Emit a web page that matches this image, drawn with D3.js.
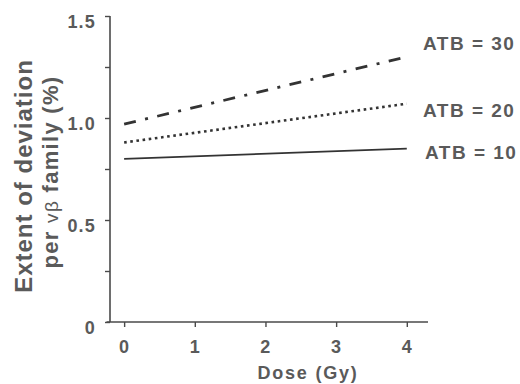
<!DOCTYPE html>
<html><head><meta charset="utf-8">
<script src="https://cdn.jsdelivr.net/npm/d3@7"></script>
<style>body{margin:0;background:#fff}svg{display:block}</style>
</head><body>
<svg id="c" width="520" height="384" font-family="'Liberation Sans', Arial, sans-serif"></svg>
<script>
const doses = [0, 4];
const atb10 = [0.80, 0.85];
const atb20 = [0.88, 1.07];
const atb30 = [0.97, 1.30];
const seriesLabels = ["ATB = 10", "ATB = 20", "ATB = 30"];
const xTicks = [0, 1, 2, 3, 4];
const yTicks = [0, 0.5, 1.0, 1.5];
const yMinor = [0.25, 0.75, 1.25];
const yTickLabels = ["0", "0.5", "1.0", "1.5"];

const svg = d3.select("#c");
const col = "#4a4a4a";
const tcol = "#5a5a5a";
const x = d3.scaleLinear().domain([-0.2, 4.3]).range([110, 428]);
const y = d3.scaleLinear().domain([0, 1.5]).range([322, 16]);

// axes
const xAxis = d3.axisBottom(x).tickValues(xTicks).tickSize(5).tickPadding(13).tickFormat(d3.format("d"));
const gx = svg.append("g").attr("transform", "translate(0,322)").call(xAxis);
gx.select(".domain").attr("d", `M${x(-0.25)},0H${x(4.3)}`);
const yAxis = d3.axisLeft(y).tickValues(yTicks.concat(yMinor)).tickSize(5).tickPadding(9)
  .tickFormat(d => { const i = yTicks.indexOf(d); return i >= 0 ? yTickLabels[i] : ""; });
const gy = svg.append("g").attr("transform", "translate(110,0)").call(yAxis);
gy.select(".domain").attr("d", `M0,${y(0)}V${y(1.5)}`);
[gx, gy].forEach(g => {
  g.attr("font-family", null);
  g.selectAll(".domain").attr("stroke", col).attr("stroke-width", 1.6);
  g.selectAll(".tick line").attr("stroke", col).attr("stroke-width", 1.4);
  g.selectAll(".tick text").attr("fill", tcol).attr("font-size", 18).attr("font-weight", "bold").attr("letter-spacing", 1.2);
});
gy.selectAll(".tick text").attr("dy", "0.65em");

// lines
const line = d3.line().x((d, i) => x(doses[i])).y(d => y(d));
const styles = [
  {data: atb10, dash: null, w: 1.7},
  {data: atb20, dash: "2.6,3.6", w: 2.6},
  {data: atb30, dash: "12,9.5,3,9.5", w: 2.8}
];
styles.forEach(s => {
  svg.append("path").attr("d", line(s.data)).attr("fill", "none")
    .attr("stroke", "#333").attr("stroke-width", s.w)
    .attr("stroke-dasharray", s.dash);
});

// series labels
const labelPos = [[425, 159], [423, 117], [423, 50]];
seriesLabels.forEach((t, i) => {
  svg.append("text").attr("x", labelPos[i][0]).attr("y", labelPos[i][1])
    .attr("font-size", 19).attr("font-weight", "bold").attr("letter-spacing", 1.5).attr("fill", tcol).text(t);
});

// axis titles
svg.append("text").attr("x", 308).attr("y", 379).attr("text-anchor", "middle")
  .attr("font-size", 18).attr("font-weight", "bold").attr("letter-spacing", 1.8).attr("fill", tcol).text("Dose (Gy)");
svg.append("text").attr("transform", "translate(32,176) rotate(-90)").attr("text-anchor", "middle")
  .attr("font-size", 24).attr("font-weight", "bold").attr("letter-spacing", 1).attr("fill", tcol)
  .text("Extent of deviation");
const t2 = svg.append("text").attr("transform", "translate(58,172) rotate(-90)").attr("text-anchor", "middle")
  .attr("font-size", 22).attr("font-weight", "bold").attr("letter-spacing", 1.3).attr("fill", tcol);
t2.append("tspan").text("per ");
t2.append("tspan").attr("font-size", 19).attr("font-weight", "normal").text("vβ");
t2.append("tspan").text(" family (%)");
</script>
</body></html>
